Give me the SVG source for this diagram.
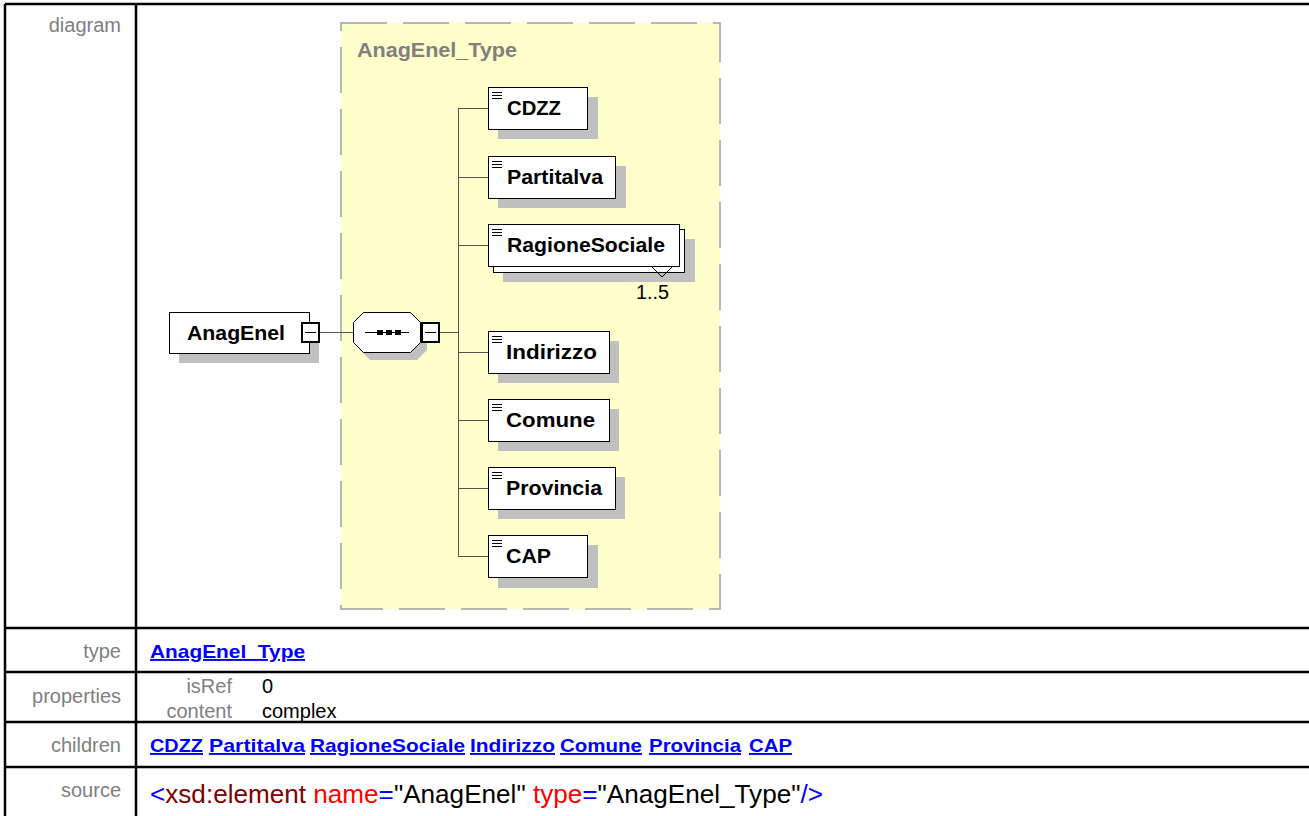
<svg xmlns="http://www.w3.org/2000/svg" width="1309" height="816" viewBox="0 0 1309 816">
<style>
.lbl{font-family:"Liberation Sans",Arial,sans-serif;font-size:20px;fill:#808080;text-anchor:end}
.val{font-family:"Liberation Sans",Arial,sans-serif;font-size:20px;fill:#000}
.lnk{font-family:"Liberation Sans",Arial,sans-serif;font-size:19px;font-weight:bold;fill:#0000FF;text-decoration:underline}
.nt{font-family:"Liberation Sans",Arial,sans-serif;font-size:20px;font-weight:bold;fill:#000}
.box{fill:#fff;stroke:#000;stroke-width:1}
.shd{fill:#C0C0C0}
.ico{stroke:#000;stroke-width:1}
.con{stroke:#555;stroke-width:1;fill:none}
.tl{stroke:#000;stroke-width:2.5}
</style>
<rect x="0" y="0" width="1309" height="816" fill="#fff"/>
<!-- table -->
<g id="table">
<line class="tl" x1="5" y1="4" x2="1309" y2="4"/>
<line class="tl" x1="5" y1="4" x2="5" y2="816"/>
<line class="tl" x1="136" y1="4" x2="136" y2="816"/>
<line class="tl" x1="5" y1="628" x2="1309" y2="628"/>
<line class="tl" x1="5" y1="672" x2="1309" y2="672"/>
<line class="tl" x1="5" y1="722" x2="1309" y2="722"/>
<line class="tl" x1="5" y1="767" x2="1309" y2="767"/>
<text class="lbl" x="121" y="32">diagram</text>
<text class="lbl" x="121" y="658">type</text>
<text class="lbl" x="121" y="703">properties</text>
<text class="lbl" x="121" y="752">children</text>
<text class="lbl" x="121" y="797">source</text>
<text class="lnk" x="150" y="658" textLength="155" lengthAdjust="spacingAndGlyphs">AnagEnel_Type</text>
<text class="lbl" x="232" y="693">isRef</text>
<text class="val" x="262" y="693">0</text>
<text class="lbl" x="232" y="718">content</text>
<text class="val" x="262" y="718">complex</text>
<text class="lnk" x="150" y="752" textLength="53" lengthAdjust="spacingAndGlyphs">CDZZ</text>
<text class="lnk" x="209" y="752" textLength="96" lengthAdjust="spacingAndGlyphs">Partitalva</text>
<text class="lnk" x="310" y="752" textLength="155" lengthAdjust="spacingAndGlyphs">RagioneSociale</text>
<text class="lnk" x="470" y="752" textLength="85" lengthAdjust="spacingAndGlyphs">Indirizzo</text>
<text class="lnk" x="560" y="752" textLength="82" lengthAdjust="spacingAndGlyphs">Comune</text>
<text class="lnk" x="649" y="752" textLength="92" lengthAdjust="spacingAndGlyphs">Provincia</text>
<text class="lnk" x="749" y="752" textLength="43" lengthAdjust="spacingAndGlyphs">CAP</text>
<text x="150" y="803" font-family="Liberation Sans, Arial, sans-serif" font-size="25" textLength="673" lengthAdjust="spacingAndGlyphs"><tspan fill="#0000FF">&lt;</tspan><tspan fill="#800000">xsd:element</tspan><tspan fill="#FF0000"> name</tspan><tspan fill="#0000FF">=</tspan><tspan fill="#000">"AnagEnel"</tspan><tspan fill="#FF0000"> type</tspan><tspan fill="#0000FF">=</tspan><tspan fill="#000">"AnagEnel_Type"</tspan><tspan fill="#0000FF">/&gt;</tspan></text>
</g>
<!-- type box -->
<g id="AnagEnel_Type">
<rect x="341" y="23" width="379" height="586" fill="#FFFFCC" stroke="#A0A0A0" stroke-width="1.5" stroke-dasharray="46 16"/>
<text x="357" y="57" font-family="Liberation Sans, Arial, sans-serif" font-size="20" font-weight="bold" fill="#808080" textLength="160" lengthAdjust="spacingAndGlyphs">AnagEnel_Type</text>
</g>
<!-- connectors -->
<g id="connectors">
<line class="con" x1="320" y1="332.5" x2="353" y2="332.5"/>
<line class="con" x1="440" y1="332.5" x2="458.5" y2="332.5"/>
<line class="con" x1="458.5" y1="108.5" x2="458.5" y2="556.5"/>
<line class="con" x1="458" y1="108.5" x2="488" y2="108.5"/>
<line class="con" x1="458" y1="177.5" x2="488" y2="177.5"/>
<line class="con" x1="458" y1="245.5" x2="488" y2="245.5"/>
<line class="con" x1="458" y1="352.5" x2="488" y2="352.5"/>
<line class="con" x1="458" y1="420.5" x2="488" y2="420.5"/>
<line class="con" x1="458" y1="488.5" x2="488" y2="488.5"/>
<line class="con" x1="458" y1="556.5" x2="488" y2="556.5"/>
</g>
<!-- root element -->
<g id="AnagEnel">
<rect class="shd" x="179" y="322" width="140" height="41"/>
<rect class="box" x="169.5" y="312.5" width="140" height="41"/>
<text class="nt" x="187" y="340" textLength="98" lengthAdjust="spacingAndGlyphs">AnagEnel</text>
<rect x="302" y="323" width="17" height="19" fill="#fff" stroke="#000" stroke-width="2"/>
<line x1="305" y1="332.5" x2="316" y2="332.5" stroke="#000" stroke-width="1"/>
</g>
<!-- sequence -->
<g id="sequence">
<polygon class="shd" points="370,320 417,320 427,330 427,350 417,360 370,360 360,350 360,330"/>
<polygon points="363.5,312.5 410.5,312.5 420.5,322.5 420.5,342.5 410.5,352.5 363.5,352.5 353.5,342.5 353.5,322.5" fill="#fff" stroke="#000" stroke-width="1"/>
<line x1="365" y1="332.5" x2="409" y2="332.5" stroke="#000" stroke-width="1"/>
<rect x="377" y="330" width="6" height="5" fill="#000"/>
<rect x="386" y="330" width="6" height="5" fill="#000"/>
<rect x="395" y="330" width="6" height="5" fill="#000"/>
<rect x="422" y="323" width="17" height="19" fill="#fff" stroke="#000" stroke-width="2"/>
<line x1="425" y1="332.5" x2="436" y2="332.5" stroke="#000" stroke-width="1"/>
</g>
<!-- children -->
<g id="CDZZ">
<rect class="shd" x="498" y="97" width="100" height="42"/>
<rect class="box" x="488.5" y="87.5" width="99" height="42"/>
<path class="ico" d="M492 92.5h10M492 95.5h10M492 98.5h10"/>
<text class="nt" x="507" y="115" textLength="54" lengthAdjust="spacingAndGlyphs">CDZZ</text>
</g>
<g id="Partitalva">
<rect class="shd" x="498" y="166" width="128" height="42"/>
<rect class="box" x="488.5" y="156.5" width="127" height="42"/>
<path class="ico" d="M492 161.5h10M492 164.5h10M492 167.5h10"/>
<text class="nt" x="507" y="184" textLength="96" lengthAdjust="spacingAndGlyphs">Partitalva</text>
</g>
<g id="RagioneSociale">
<rect class="shd" x="503" y="239" width="192" height="43"/>
<rect class="box" x="493.5" y="229.5" width="191" height="43"/>
<rect class="box" x="488.5" y="224.5" width="191" height="42"/>
<path class="ico" d="M492 229.5h10M492 232.5h10M492 235.5h10"/>
<text class="nt" x="507" y="252" textLength="158" lengthAdjust="spacingAndGlyphs">RagioneSociale</text>
<path d="M652 267l10 10l10 -10" fill="none" stroke="#000" stroke-width="1"/>
<text class="val" x="636" y="299" textLength="33" lengthAdjust="spacingAndGlyphs">1..5</text>
</g>
<g id="Indirizzo">
<rect class="shd" x="498" y="341" width="121" height="42"/>
<rect class="box" x="488.5" y="331.5" width="121" height="42"/>
<path class="ico" d="M492 336.5h10M492 339.5h10M492 342.5h10"/>
<text class="nt" x="506" y="359" textLength="91" lengthAdjust="spacingAndGlyphs">Indirizzo</text>
</g>
<g id="Comune">
<rect class="shd" x="498" y="409" width="121" height="42"/>
<rect class="box" x="488.5" y="399.5" width="121" height="42"/>
<path class="ico" d="M492 404.5h10M492 407.5h10M492 410.5h10"/>
<text class="nt" x="506" y="427" textLength="89" lengthAdjust="spacingAndGlyphs">Comune</text>
</g>
<g id="Provincia">
<rect class="shd" x="498" y="477" width="127" height="42"/>
<rect class="box" x="488.5" y="467.5" width="127" height="42"/>
<path class="ico" d="M492 472.5h10M492 475.5h10M492 478.5h10"/>
<text class="nt" x="506" y="495" textLength="96" lengthAdjust="spacingAndGlyphs">Provincia</text>
</g>
<g id="CAP">
<rect class="shd" x="498" y="545" width="100" height="43"/>
<rect class="box" x="488.5" y="535.5" width="99" height="42"/>
<path class="ico" d="M492 540.5h10M492 543.5h10M492 546.5h10"/>
<text class="nt" x="506" y="563" textLength="45" lengthAdjust="spacingAndGlyphs">CAP</text>
</g>
</svg>
